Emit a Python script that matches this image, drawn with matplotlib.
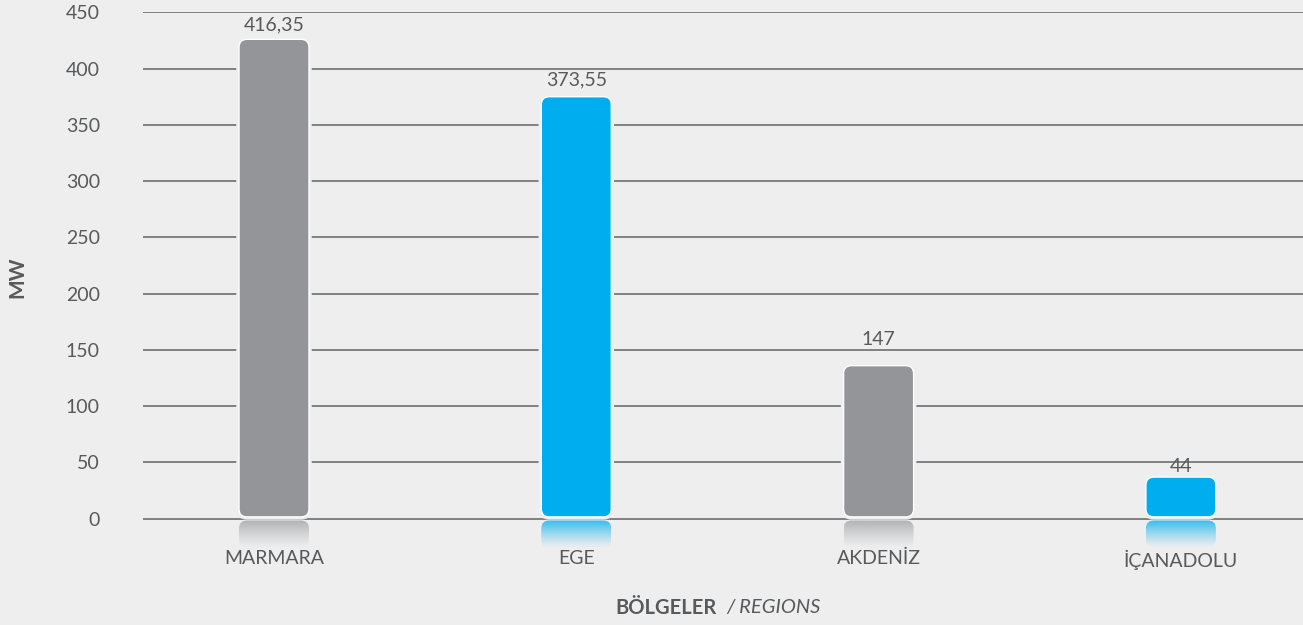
import numpy as np
import matplotlib

matplotlib.use("Agg")
import matplotlib.pyplot as plt
from matplotlib.patches import FancyBboxPatch

# data
regions = ["MARMARA", "EGE", "AKDENİZ", "İÇANADOLU"]
bar_heights = [426, 375, 136, 37]          # drawn height of each bar (MW)
value_labels = ["416,35", "373,55", "147", "44"]
y_ticks = [0, 50, 100, 150, 200, 250, 300, 350, 400, 450]

BG = "#eeeeee"
GRAY = "#939598"
BLUE = "#00aeef"
TEXT = "#58595b"
GRID = "#6d6e71"
colors = [GRAY, BLUE, GRAY, BLUE]
refl_colors = ["#a9aaad", "#1fb6f0", "#a9aaad", "#1fb6f0"]
label_offsets = [14, 17, 26, 11]  # px above bar top

plt.rcParams["font.family"] = ["Lato", "DejaVu Sans"]

W, H = 1303, 625
fig = plt.figure(figsize=(W / 100, H / 100), dpi=100, facecolor=BG)

# pixel geometry of the plot area
x0_px, x_unit = 274.0, 302.3     # centre of first bar, px per category
y0_px, y_unit = 518.7, 1.1253    # baseline, px per MW
left_px, right_px = 143, 1303
ymin = -28
bottom_px = y0_px - ymin * y_unit
top_px = y0_px - 450 * y_unit

ax = fig.add_axes([left_px / W, 1 - bottom_px / H,
                   (right_px - left_px) / W, (bottom_px - top_px) / H])
ax.set_facecolor(BG)
ax.set_xlim((left_px - x0_px) / x_unit, (right_px - x0_px) / x_unit)
ax.set_ylim(ymin, 450)
for s in ax.spines.values():
    s.set_visible(False)

for t in y_ticks:
    ax.axhline(t, color=GRID, lw=1.2, zorder=1)

bar_w = 70 / x_unit
rad = 8 / x_unit
aspect = (1 / y_unit) / (1 / x_unit)
gap = 1.6  # MW between bar / reflection and baseline
refl_h = 24

for i, (h, c, rc) in enumerate(zip(bar_heights, colors, refl_colors)):
    x = i - bar_w / 2
    # gap around the bar (hides gridlines)
    ax.add_patch(FancyBboxPatch((x, gap), bar_w, h - gap,
                                boxstyle=f"round,pad=0,rounding_size={rad}",
                                mutation_aspect=aspect, fc=BG, ec=BG, lw=4, zorder=2))
    ax.add_patch(FancyBboxPatch((x, gap), bar_w, h - gap,
                                boxstyle=f"round,pad=0,rounding_size={rad}",
                                mutation_aspect=aspect, fc=c, ec="white", lw=1.0, zorder=3))

    # reflection below the baseline
    clip = FancyBboxPatch((x, -gap - refl_h), bar_w, refl_h,
                          boxstyle=f"round,pad=0,rounding_size={rad}",
                          mutation_aspect=aspect, fc="none", ec="none",
                          transform=ax.transData)
    ax.add_patch(clip)
    rgba = np.zeros((64, 2, 4))
    rgba[..., :3] = matplotlib.colors.to_rgb(rc)
    rgba[..., 3] = np.linspace(0.9, 0.0, 64)[:, None] ** 1.2
    im = ax.imshow(rgba, extent=(x, x + bar_w, -gap - refl_h, -gap),
                   origin="upper", aspect="auto", zorder=2, interpolation="bilinear")
    im.set_clip_path(clip)

    ax.annotate(value_labels[i], (i, h), xytext=(0, label_offsets[i]),
                textcoords="offset pixels", ha="center", va="center",
                fontsize=14, color=TEXT, zorder=4)

ax.set_yticks(y_ticks)
ax.set_yticklabels([str(t) for t in y_ticks])
ax.set_xticks(range(len(regions)))
ax.set_xticklabels(regions)
ax.tick_params(axis="y", length=0, pad=31, labelsize=14, labelcolor=TEXT)
ax.tick_params(axis="x", length=0, pad=0, labelsize=14, labelcolor=TEXT)

fig.text(17 / W, 1 - 277 / H, "MW", rotation=90, ha="center", va="center",
         fontsize=15, fontweight="bold", color=TEXT)
fig.text(717 / W, 1 - 608 / H, "BÖLGELER", ha="right", va="center",
         fontsize=14.5, fontweight="bold", color=TEXT)
fig.text(726 / W, 1 - 608 / H, "/ REGIONS", ha="left", va="center",
         fontsize=14.5, fontstyle="italic", color=TEXT)

fig.savefig("out.png", dpi=100, facecolor=BG)
